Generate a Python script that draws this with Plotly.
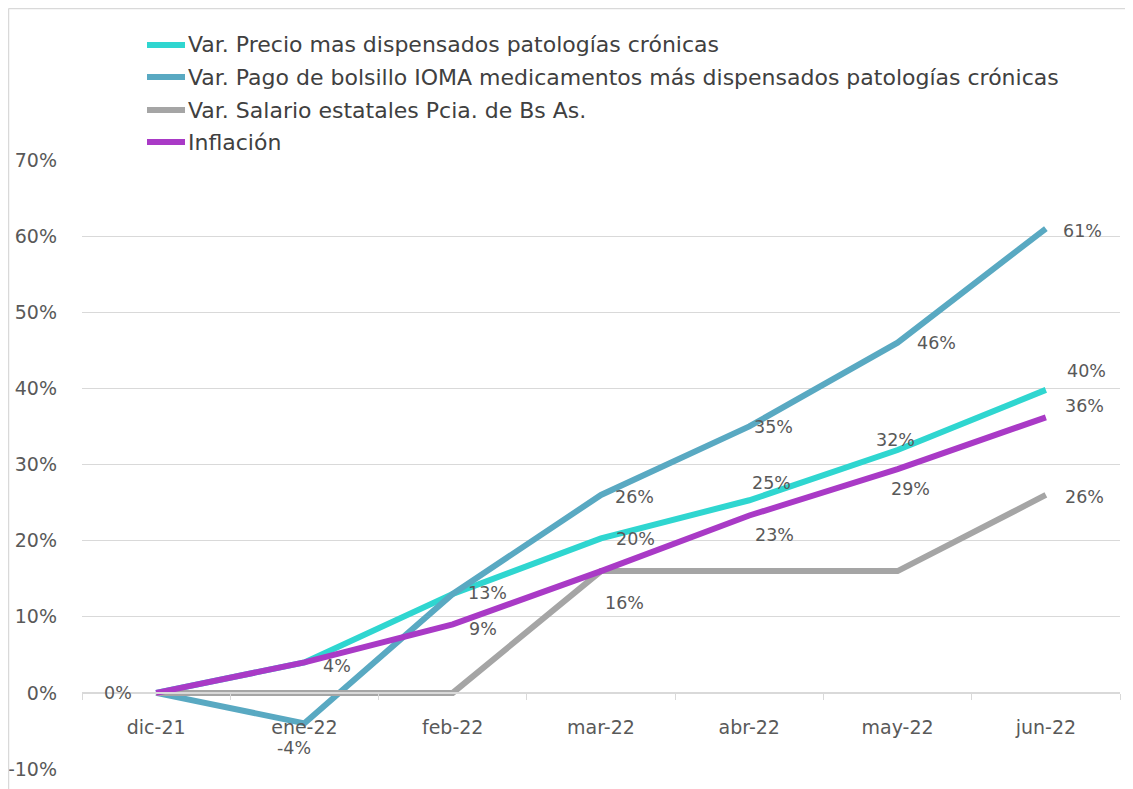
import plotly.graph_objects as go

categories = ["dic-21", "ene-22", "feb-22", "mar-22", "abr-22", "may-22", "jun-22"]

series_names = [
    "Var. Precio mas dispensados patologías crónicas",
    "Var. Pago de bolsillo IOMA medicamentos más dispensados patologías crónicas",
    "Var. Salario estatales Pcia. de Bs As.",
    "Inflación",
]
precio = [0, 4, 13, 20.3, 25.3, 31.9, 39.8]
ioma = [0, -4, 13, 26, 35, 46, 61]
salario = [0, 0, 0, 16, 16, 16, 26]
inflacion = [0, 4, 9, 16, 23.3, 29.4, 36.2]

y_ticks = [-10, 0, 10, 20, 30, 40, 50, 60, 70]
y_ticktext = ["-10%", "0%", "10%", "20%", "30%", "40%", "50%", "60%", "70%"]

colors = ["#2FD6D0", "#59A9C2", "#A5A5A5", "#A93AC6"]

# which points show a data label and label pixel offsets (dx, dy; dy positive = down)
precio_show = [False, False, True, True, True, True, True]
precio_off = [(0, 0), (0, 0), (35, -1), (34, 1), (22, -17), (-2, -10), (41, -19)]
ioma_show = [False, True, False, True, True, True, True]
ioma_off = [(0, 0), (-10, 25), (0, 0), (33, 2), (24, 1), (39, 0), (37, 2)]
salario_show = [False, False, False, True, False, False, True]
salario_off = [(0, 0), (0, 0), (0, 0), (23, 32), (0, 0), (0, 0), (39, 2)]
inflacion_show = [True, True, True, False, True, True, True]
inflacion_off = [(-38, 0), (33, 4), (30, 5), (0, 0), (25, 19), (13, 20), (39, -11)]

all_values = [precio, ioma, salario, inflacion]
all_show = [precio_show, ioma_show, salario_show, inflacion_show]
all_off = [precio_off, ioma_off, salario_off, inflacion_off]

FONT = "DejaVu Sans"
TXT = "#595959"

fig = go.Figure()
for i, (name, vals) in enumerate(zip(series_names, all_values)):
    fig.add_trace(go.Scatter(
        x=categories, y=vals, mode="lines", name=name,
        line=dict(color=colors[i], width=6),
        hoverinfo="skip", showlegend=False,
    ))

annotations = []
for vals, show, off in zip(all_values, all_show, all_off):
    for c, v, s, (dx, dy) in zip(categories, vals, show, off):
        if not s:
            continue
        annotations.append(dict(
            x=c, y=v, xref="x", yref="y", text=f"{round(v)}%",
            showarrow=False, xshift=dx, yshift=-dy,
            font=dict(family=FONT, size=17.5, color=TXT),
        ))

# page has an 8px body margin; figure is positioned at (8, 8)
OFF = 8
W, H = 1133 - OFF, 789 - OFF
L, R, T, B = 82 - OFF, 13, 160 - OFF, 20
pw, ph = W - L - R, H - T - B


def px_x(page_x):
    return (page_x - OFF - L) / pw


def px_y(page_y):
    return (H - B - (page_y - OFF)) / ph


shapes = [
    dict(type="line", xref="paper", yref="paper",
         x0=px_x(8.5), x1=px_x(8.5), y0=px_y(8.5), y1=px_y(800),
         line=dict(color="#D9D9D9", width=1.5)),
    dict(type="line", xref="paper", yref="paper",
         x0=px_x(8.5), x1=px_x(1140), y0=px_y(8.5), y1=px_y(8.5),
         line=dict(color="#D9D9D9", width=1.5)),
]

# manual legend (symbol + text) at the top-left
legend_rows = [45, 77, 110, 142]
for name, col, ry in zip(series_names, colors, legend_rows):
    shapes.append(dict(type="line", xref="paper", yref="paper",
                       x0=px_x(147), x1=px_x(185), y0=px_y(ry), y1=px_y(ry),
                       line=dict(color=col, width=6)))
    annotations.append(dict(
        x=px_x(186), y=px_y(ry), xref="paper", yref="paper", text=name,
        xanchor="left", yanchor="middle", showarrow=False,
        font=dict(family=FONT, size=22, color="#404040"),
    ))

fig.update_layout(
    width=W, height=H,
    margin=dict(l=L, r=R, t=T, b=B),
    paper_bgcolor="white", plot_bgcolor="white",
    font=dict(family=FONT, size=17, color=TXT),
    showlegend=False,
    xaxis=dict(
        type="category", categoryorder="array", categoryarray=categories,
        anchor="free", position=0.125, automargin=False,
        showline=True, linecolor="#D9D9D9", linewidth=1.5,
        ticks="outside", tickson="boundaries", ticklen=6, tickcolor="#D9D9D9",
        showgrid=False, range=[-0.5, 6.5],
        tickfont=dict(family=FONT, size=19, color=TXT),
        ticklabelstandoff=18,
    ),
    yaxis=dict(
        range=[-10, 70], tickvals=y_ticks, ticktext=y_ticktext, automargin=False,
        showgrid=True, gridcolor="#D9D9D9", gridwidth=1.2,
        zeroline=False, showline=False, ticks="",
        tickfont=dict(family=FONT, size=19, color=TXT),
        ticklabelstandoff=24,
    ),
    annotations=annotations,
    shapes=shapes,
)

fig.write_html("out.html")
